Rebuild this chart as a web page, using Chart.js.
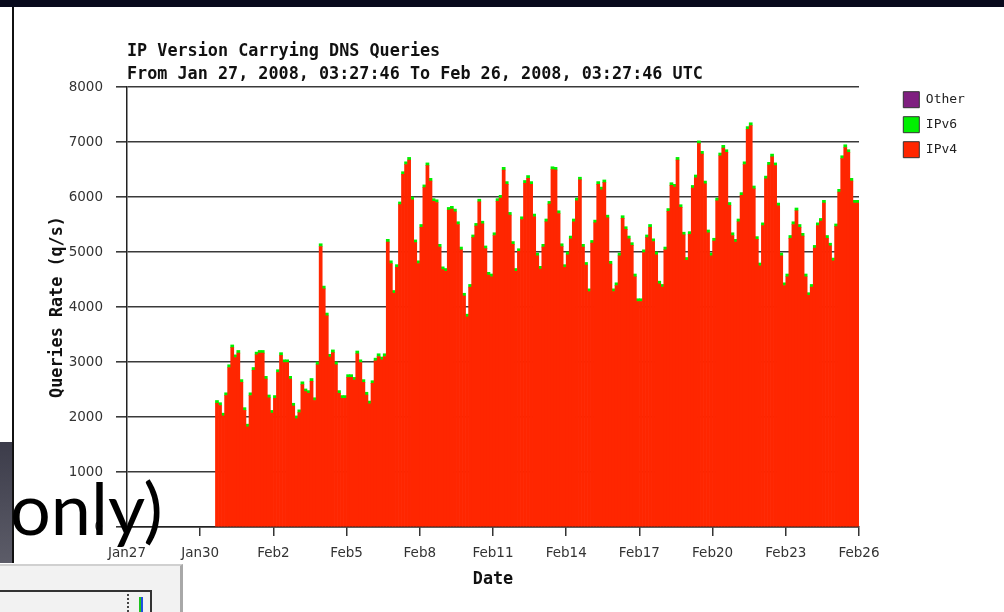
<!DOCTYPE html>
<html>
<head>
<meta charset="utf-8">
<script src="https://cdn.jsdelivr.net/npm/chart.js@4/dist/chart.umd.min.js"></script>
<style>
  body { margin: 0; background: #fff; }
  #wrap { position: relative; width: 1004px; height: 612px; overflow: hidden; background: #fff; }
  #chart { position: absolute; left: 0; top: 0; }
  .band { position: absolute; left: 0; top: 0; width: 1004px; height: 7px; background: #080a1c; }
  .edge { position: absolute; left: 12px; top: 7px; width: 2px; height: 556px; background: #111; }
  .slab { position: absolute; left: 0; top: 442px; width: 12px; height: 121px; background: linear-gradient(#3c3c4a, #5c5c68); }
  .shot { position: absolute; left: 0; top: 564px; width: 180px; height: 48px; background: #f2f2f2; border-top: 2px solid #d0d0d0; border-right: 3px solid #a8a8a8; }
  .shot .hl { position: absolute; left: 0; top: 24px; width: 152px; height: 2px; background: #333; }
  .shot .vl { position: absolute; left: 150px; top: 24px; width: 2px; height: 30px; background: #333; }
  .shot .dots { position: absolute; left: 127px; top: 28px; width: 0; height: 30px; border-left: 2px dotted #444; }
  .shot .spike { position: absolute; left: 139px; top: 31px; width: 4px; height: 20px; background: linear-gradient(90deg, #1ec21e 50%, #1f50e0 50%); }
  .big { position: absolute; left: 10px; top: 471px; font-family: Lato, "Open Sans", sans-serif; font-size: 72px; line-height: 72px; color: #000; white-space: nowrap; }
</style>
</head>
<body>
<div id="wrap">
  <canvas id="chart" width="1004" height="612"></canvas>
  <div class="band"></div>
  <div class="edge"></div>
  <div class="slab"></div>
  <div class="shot"><div class="hl"></div><div class="vl"></div><div class="dots"></div><div class="spike"></div></div>
  <div class="big">only)</div>
</div>
<script>
// 3-hour samples, first bin starts Jan 30 ~15:00, last ends Feb 26
const ipv4 = [
  2250, 2210, 2020, 2390, 2900, 3260, 3080, 3160,
  2630, 2120, 1820, 2390, 2850, 3130, 3160, 3160,
  2690, 2350, 2070, 2340, 2810, 3120, 2990, 2990,
  2690, 2200, 1970, 2080, 2590, 2460, 2430, 2650,
  2300, 2950, 5100, 4330, 3840, 3090, 3170, 2950,
  2430, 2340, 2340, 2720, 2720, 2670, 3150, 2990,
  2630, 2400, 2240, 2610, 3020, 3100, 3040, 3100,
  5180, 4790, 4250, 4720, 5860, 6410, 6590, 6670,
  5950, 5170, 4790, 5450, 6170, 6570, 6290, 5920,
  5900, 5090, 4680, 4650, 5760, 5780, 5730, 5500,
  5040, 4200, 3820, 4360, 5260, 5470, 5910, 5510,
  5060, 4580, 4550, 5300, 5920, 5980, 6490, 6230,
  5670, 5140, 4650, 5010, 5590, 6250, 6340, 6230,
  5640, 4930, 4690, 5090, 5550, 5870, 6500, 6490,
  5700, 5100, 4720, 4950, 5240, 5550, 5930, 6310,
  5090, 4760, 4280, 5160, 5530, 6230, 6130, 6260,
  5620, 4780, 4280, 4390, 4930, 5610, 5410, 5240,
  5120, 4550, 4100, 4100, 4990, 5260, 5450, 5190,
  4950, 4420, 4360, 5040, 5740, 6210, 6180, 6670,
  5810, 5310, 4850, 5320, 6160, 6350, 6970, 6780,
  6240, 5350, 4930, 5200, 5930, 6750, 6890, 6810,
  5850, 5300, 5180, 5550, 6030, 6590, 7230, 7300,
  6150, 5230, 4750, 5480, 6330, 6580, 6730, 6570,
  5840, 4930, 4390, 4550, 5250, 5500, 5750, 5450,
  5290, 4550, 4210, 4360, 5070, 5480, 5560, 5890,
  5250, 5110, 4840, 5460, 6090, 6700, 6900, 6810,
  6290, 5890, 5890
]
const ipv6 = [
  50, 50, 50, 50, 50, 50, 50, 50,
  50, 50, 50, 50, 50, 50, 50, 50,
  50, 50, 50, 50, 50, 50, 50, 50,
  50, 50, 50, 50, 50, 50, 50, 50,
  50, 50, 50, 50, 50, 50, 50, 50,
  50, 50, 50, 50, 50, 50, 50, 50,
  50, 50, 50, 50, 50, 50, 50, 50,
  50, 50, 50, 50, 50, 50, 50, 50,
  50, 50, 50, 50, 50, 50, 50, 50,
  50, 50, 50, 50, 50, 50, 50, 50,
  50, 50, 50, 50, 50, 50, 50, 50,
  50, 50, 50, 50, 50, 50, 50, 50,
  50, 50, 50, 50, 50, 50, 50, 50,
  50, 50, 50, 50, 50, 50, 50, 50,
  50, 50, 50, 50, 50, 50, 50, 50,
  50, 50, 50, 50, 50, 50, 50, 50,
  50, 50, 50, 50, 50, 50, 50, 50,
  50, 50, 50, 50, 50, 50, 50, 50,
  50, 50, 50, 50, 50, 50, 50, 50,
  50, 50, 50, 50, 50, 50, 50, 50,
  50, 50, 50, 50, 50, 50, 50, 50,
  50, 50, 50, 50, 50, 50, 50, 50,
  50, 50, 50, 50, 50, 50, 50, 50,
  50, 50, 50, 50, 50, 50, 50, 50,
  50, 50, 50, 50, 50, 50, 50, 50,
  50, 50, 50, 50, 50, 50, 50, 50,
  50, 50, 50
]
const other = []
const dateTicks = ["Jan27", "Jan30", "Feb2", "Feb5", "Feb8", "Feb11", "Feb14", "Feb17", "Feb20", "Feb23", "Feb26"]
const titleLines = ["IP Version Carrying DNS Queries", "From Jan 27, 2008, 03:27:46 To Feb 26, 2008, 03:27:46 UTC"]

// x is days since Jan 27 00:00
const firstBinStart = 3.625
const binDays = 1 / 8
const asPoints = arr => arr.map((v, i) => ({ x: firstBinStart + binDays * (i + 0.5), y: v }))

const mono = '"DejaVu Sans Mono", "Liberation Mono", monospace'
const sans = '"DejaVu Sans", "Liberation Sans", sans-serif'

// park the legend to the right of the plot, like the rrd image
const legendPlacer = {
  id: 'legendPlacer',
  afterLayout(chart) {
    const lg = chart.legend
    const w = lg.right - lg.left
    lg.left = 894.3
    lg.right = lg.left + w
    const h = lg.bottom - lg.top
    lg.top = 82.7
    lg.bottom = lg.top + h
  }
}

new Chart(document.getElementById('chart'), {
  type: 'bar',
  data: {
    datasets: [
      { label: 'IPv4', data: asPoints(ipv4), backgroundColor: '#ff2600', borderWidth: 0 },
      { label: 'IPv6', data: asPoints(ipv6), backgroundColor: '#00f000', borderWidth: 0 },
      { label: 'Other', data: other, backgroundColor: '#7f1f80', borderWidth: 0 }
    ]
  },
  options: {
    responsive: false,
    animation: false,
    events: [],
    layout: { padding: { left: 40, right: 145, top: 0, bottom: 0 } },
    datasets: { bar: { barPercentage: 1, categoryPercentage: 1 } },
    scales: {
      x: {
        type: 'linear',
        stacked: true,
        offset: false,
        min: 0,
        max: 30,
        afterFit: s => { s.height = 85 },
        afterBuildTicks: s => { s.ticks = dateTicks.map((_, i) => ({ value: i * 3 })) },
        ticks: {
          autoSkip: false,
          maxRotation: 0,
          padding: 9,
          color: '#333',
          font: { family: sans, size: 13.5 },
          callback: v => dateTicks[Math.round(v / 3)]
        },
        grid: { offset: false, drawOnChartArea: false, drawTicks: true, tickLength: 9, color: '#333', lineWidth: 1.5 },
        border: { display: true, color: '#222', width: 1.5 },
        title: { display: true, text: 'Date', color: '#111', font: { family: mono, size: 16.8, weight: 'bold' }, padding: { top: 0, bottom: 22 } }
      },
      y: {
        stacked: true,
        min: 0,
        max: 8000,
        afterFit: s => { s.width = 87 },
        ticks: {
          stepSize: 1000,
          padding: 13,
          color: '#333',
          font: { family: sans, size: 13.5 },
          callback: v => String(v)
        },
        grid: { color: '#3a3a3a', lineWidth: 1.6, tickLength: 11 },
        border: { display: true, color: '#222', width: 1.5 },
        title: { display: true, text: 'Queries Rate (q/s)', color: '#111', font: { family: mono, size: 16.8, weight: 'bold' }, padding: { top: 8, bottom: 0 } }
      }
    },
    plugins: {
      tooltip: { enabled: false },
      title: {
        display: true,
        text: titleLines,
        align: 'start',
        fullSize: false,
        color: '#111',
        font: { family: mono, size: 16.8, weight: 'bold', lineHeight: 23 / 16.8 },
        padding: { top: 40.5, bottom: 0.5 }
      },
      legend: {
        position: 'chartArea',
        align: 'start',
        reverse: true,
        labels: {
          boxWidth: 16,
          boxHeight: 16,
          padding: 9,
          color: '#222',
          font: { family: mono, size: 13 },
          generateLabels: chart => chart.data.datasets.map((ds, i) => ({
            text: ds.label,
            fillStyle: ds.backgroundColor,
            strokeStyle: '#333',
            lineWidth: 1,
            fontColor: '#222',
            hidden: false,
            datasetIndex: i
          }))
        }
      }
    }
  },
  plugins: [legendPlacer]
})
</script>
</body>
</html>
